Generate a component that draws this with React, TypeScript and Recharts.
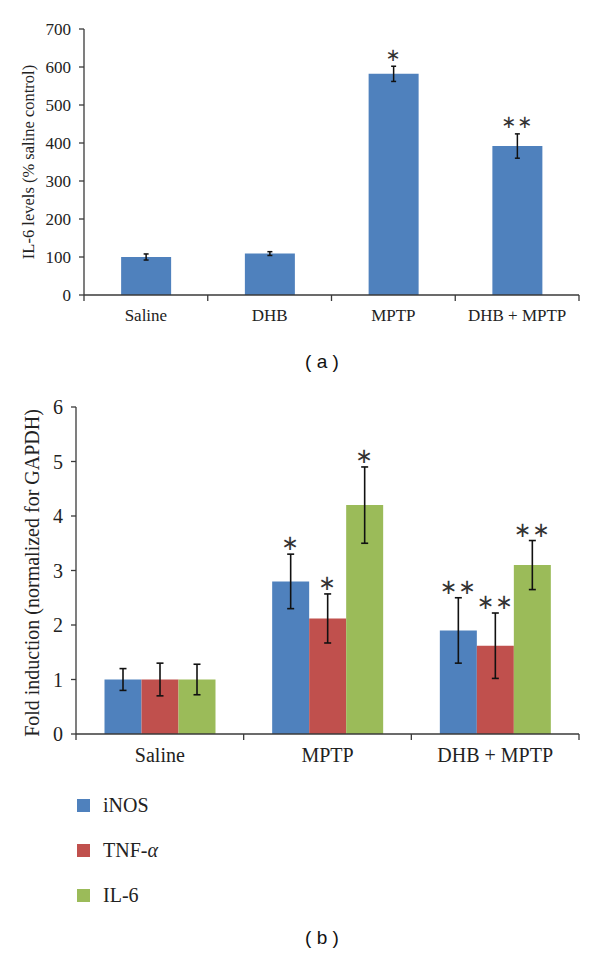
import { BarChart, Bar, XAxis, YAxis, ErrorBar, LabelList, Legend } from 'recharts';

// panel (a): IL-6 protein levels
const topCategories = ['Saline', 'DHB', 'MPTP', 'DHB + MPTP'];
const il6Levels = [100, 109, 582, 392];
const il6LevelsErr = [8, 5, 20, 32];
const topStars = ['', '', '∗', '∗∗'];
const topTicks = [0, 100, 200, 300, 400, 500, 600, 700];

// panel (b): fold induction
const bottomCategories = ['Saline', 'MPTP', 'DHB + MPTP'];
const inosFold = [1.0, 2.8, 1.9];
const inosErr = [0.2, 0.5, 0.6];
const tnfFold = [1.0, 2.12, 1.62];
const tnfErr = [0.3, 0.45, 0.6];
const il6Fold = [1.0, 4.2, 3.1];
const il6Err = [0.28, 0.7, 0.45];
const bottomStars = ['', '∗', '∗∗'];
const bottomTicks = [0, 1, 2, 3, 4, 5, 6];

const BLUE = '#4F81BD';
const RED = '#C0504D';
const GREEN = '#9BBB59';
const AXIS = '#3a3a3a';
const SERIF = 'Liberation Serif';

const topData = topCategories.map((name, i) => ({ name, value: il6Levels[i], err: il6LevelsErr[i] }));
const bottomData = bottomCategories.map((name, i) => ({
  name,
  inos: inosFold[i], inosErr: inosErr[i],
  tnf: tnfFold[i], tnfErr: tnfErr[i],
  il6: il6Fold[i], il6Err: il6Err[i],
}));

// category ticks sit at the band edges, labels at the band centre
const makeCategoryTick = (halfBand: number, count: number, fontSize: number, labelDy: number) => (props: any) => {
  const { x, y, payload, index } = props;
  return (
    <g>
      <line x1={x - halfBand} x2={x - halfBand} y1={y} y2={y + 6} stroke={AXIS} strokeWidth={1.3} />
      {index === count - 1 && (
        <line x1={x + halfBand} x2={x + halfBand} y1={y} y2={y + 6} stroke={AXIS} strokeWidth={1.3} />
      )}
      <text x={x} y={y + labelDy} textAnchor="middle" style={{ fontFamily: SERIF }} fontSize={fontSize} fill="#222">
        {payload.value}
      </text>
    </g>
  );
};

const makeValueTick = (fontSize: number) => (props: any) => {
  const { x, y, payload } = props;
  return (
    <text x={x} y={y} textAnchor="end" dominantBaseline="central" style={{ fontFamily: SERIF }}
      fontSize={fontSize} fill="#222">
      {payload.value}
    </text>
  );
};

// significance marks drawn just above the error bar
const makeStarLabel = (vals: number[], errs: number[], stars: string[], size: number, gap: number) => (props: any) => {
  const { index } = props;
  const vb = props.viewBox ?? props;
  const s = stars[index];
  if (!s) return null;
  const pxPerUnit = vb.height / vals[index];
  const top = vb.y - errs[index] * pxPerUnit;
  return (
    <text x={vb.x + vb.width / 2} y={top - gap} textAnchor="middle" dominantBaseline="central"
      style={{ fontFamily: 'DejaVu Sans' }} fontSize={size} fill="#333" letterSpacing={1}>
      {s}
    </text>
  );
};

const LegendContent = () => {
  const items = [
    { color: BLUE, label: <span>iNOS</span> },
    { color: RED, label: <span>TNF-<i>α</i></span> },
    { color: GREEN, label: <span>IL-6</span> },
  ];
  return (
    <div>
      {items.map((it, i) => (
        <div key={i} style={{ display: 'flex', alignItems: 'center', height: 45 }}>
          <div style={{ width: 13, height: 13, background: it.color, marginRight: 13 }} />
          <div style={{ fontFamily: SERIF, fontSize: 20, color: '#222' }}>{it.label}</div>
        </div>
      ))}
    </div>
  );
};

const rotatedLabel = (text: string, cx: number, cy: number, size: number) => (
  <div style={{
    position: 'absolute', left: cx, top: cy, transform: 'translate(-50%, -50%) rotate(-90deg)',
    whiteSpace: 'nowrap', fontFamily: SERIF, fontSize: size, color: '#222', lineHeight: 1,
  }}>{text}</div>
);

const panelTag = (text: string, cx: number, cy: number) => (
  <div style={{
    position: 'absolute', left: cx, top: cy, transform: 'translate(-50%, -50%)',
    fontFamily: 'Liberation Sans', fontSize: 19, color: '#111', whiteSpace: 'pre',
  }}>{text}</div>
);

export default function App() {
  return (
    <div style={{ position: 'absolute', left: 0, top: 0, width: 600, height: 955, background: '#fff' }}>
      <div style={{ position: 'absolute', left: 0, top: 0 }}>
        <BarChart width={600} height={340} data={topData} barCategoryGap="30%"
          margin={{ top: 29, right: 21, bottom: 15, left: 24 }}>
          <XAxis dataKey="name" height={30} stroke={AXIS} strokeWidth={1.3} tickLine={false} tickSize={0} tickMargin={0}
            tick={makeCategoryTick(495 / 8, topCategories.length, 17, 26)} interval={0} />
          <YAxis width={60} domain={[0, 700]} ticks={topTicks} stroke={AXIS} strokeWidth={1.3} tickSize={5}
            tickMargin={8} tick={makeValueTick(17)} />
          <Bar dataKey="value" fill={BLUE} isAnimationActive={false}>
            <ErrorBar dataKey="err" width={2.5} stroke="#111" strokeWidth={1.5} direction="y" isAnimationActive={false} />
            <LabelList dataKey="value" content={makeStarLabel(il6Levels, il6LevelsErr, topStars, 18, 12)} />
          </Bar>
        </BarChart>
      </div>
      {rotatedLabel('IL-6 levels (% saline control)', 29, 162, 16.5)}
      {panelTag('( a )', 322, 362)}

      <div style={{ position: 'absolute', left: 0, top: 380 }}>
        <BarChart width={600} height={575} data={bottomData} barCategoryGap="17%" barGap={0}
          margin={{ top: 27, right: 21, bottom: 191, left: 26 }}>
          <XAxis dataKey="name" height={30} stroke={AXIS} strokeWidth={1.3} tickLine={false} tickSize={0} tickMargin={0}
            tick={makeCategoryTick(503 / 6, bottomCategories.length, 20, 28)} interval={0} />
          <YAxis width={50} domain={[0, 6]} ticks={bottomTicks} stroke={AXIS} strokeWidth={1.3} tickSize={5}
            tickMargin={8} tick={makeValueTick(20)} />
          <Legend layout="vertical" align="center" verticalAlign="middle" content={<LegendContent />}
            wrapperStyle={{ left: 77, top: 403, width: 200, height: 135 }} />
          <Bar dataKey="inos" name="iNOS" fill={BLUE} isAnimationActive={false}>
            <ErrorBar dataKey="inosErr" width={3.5} stroke="#111" strokeWidth={1.6} direction="y" isAnimationActive={false} />
            <LabelList dataKey="inos" content={makeStarLabel(inosFold, inosErr, bottomStars, 21, 11)} />
          </Bar>
          <Bar dataKey="tnf" name="TNF-α" fill={RED} isAnimationActive={false}>
            <ErrorBar dataKey="tnfErr" width={3.5} stroke="#111" strokeWidth={1.6} direction="y" isAnimationActive={false} />
            <LabelList dataKey="tnf" content={makeStarLabel(tnfFold, tnfErr, bottomStars, 21, 11)} />
          </Bar>
          <Bar dataKey="il6" name="IL-6" fill={GREEN} isAnimationActive={false}>
            <ErrorBar dataKey="il6Err" width={3.5} stroke="#111" strokeWidth={1.6} direction="y" isAnimationActive={false} />
            <LabelList dataKey="il6" content={makeStarLabel(il6Fold, il6Err, bottomStars, 21, 11)} />
          </Bar>
        </BarChart>
      </div>
      {rotatedLabel('Fold induction (normalized for GAPDH)', 32, 573, 20)}
      {panelTag('( b )', 322, 938)}
    </div>
  );
}
